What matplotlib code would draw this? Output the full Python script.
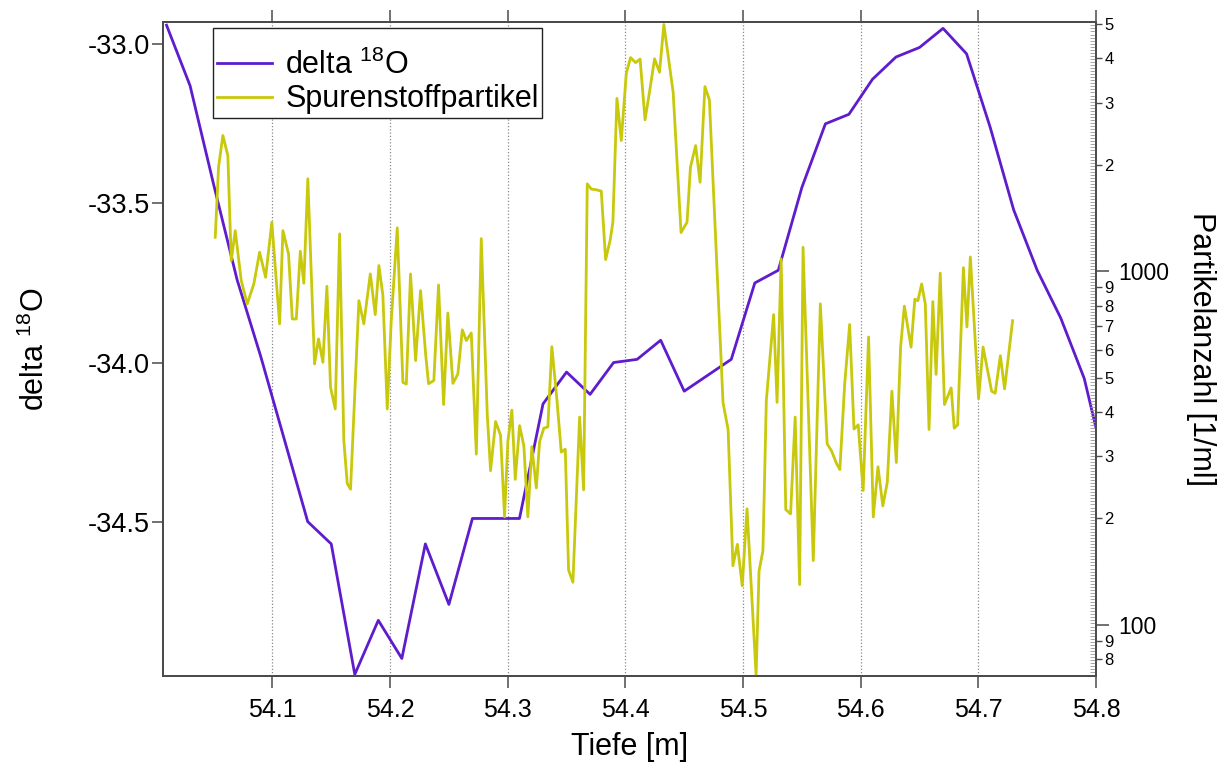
import numpy as np
import matplotlib
matplotlib.use("Agg")
import matplotlib.pyplot as plt
from matplotlib.ticker import FixedLocator, FuncFormatter, LogLocator, NullFormatter

plt.rcParams['font.family'] = ['Liberation Sans', 'DejaVu Sans']
plt.rcParams['mathtext.fontset'] = 'custom'
plt.rcParams['mathtext.rm'] = 'Liberation Sans'
plt.rcParams['mathtext.it'] = 'Liberation Sans:italic'
plt.rcParams['axes.unicode_minus'] = False

# ---------------- data ----------------
depth_o18 = [54.01, 54.03, 54.05, 54.07, 54.09, 54.11, 54.13, 54.15, 54.17, 54.19,
             54.21, 54.23, 54.25, 54.27, 54.29, 54.31, 54.33, 54.35, 54.37, 54.39,
             54.41, 54.43, 54.45, 54.47, 54.49, 54.51, 54.53, 54.55, 54.57, 54.59,
             54.61, 54.63, 54.65, 54.67, 54.69, 54.71, 54.73, 54.75, 54.77, 54.79,
             54.81]
delta_o18 = [-32.94, -33.13, -33.44, -33.74, -33.98, -34.24, -34.50, -34.57, -34.98, -34.81,
             -34.93, -34.57, -34.76, -34.49, -34.49, -34.49, -34.13, -34.03, -34.10, -34.00,
             -33.99, -33.93, -34.09, -34.04, -33.99, -33.75, -33.71, -33.45, -33.25, -33.22,
             -33.11, -33.04, -33.01, -32.95, -33.03, -33.26, -33.52, -33.71, -33.86, -34.05,
             -34.36]

depth_part = [54.0514, 54.0542, 54.0579, 54.0621, 54.0650, 54.0684, 54.0735, 54.0786, 54.0842, 54.0891,
              54.0942, 54.0995, 54.1061, 54.1089, 54.1137, 54.1169, 54.1203, 54.1237, 54.1267, 54.1301,
              54.1358, 54.1392, 54.1429, 54.1463, 54.1494, 54.1534, 54.1571, 54.1607, 54.1636, 54.1664,
              54.1735, 54.1777, 54.1832, 54.1874, 54.1905, 54.1939, 54.1976, 54.2010, 54.2061, 54.2109,
              54.2138, 54.2174, 54.2217, 54.2259, 54.2302, 54.2327, 54.2372, 54.2412, 54.2455, 54.2491,
              54.2534, 54.2576, 54.2614, 54.2648, 54.2690, 54.2733, 54.2775, 54.2826, 54.2854, 54.2897,
              54.2939, 54.2973, 54.3001, 54.3035, 54.3064, 54.3101, 54.3137, 54.3171, 54.3205, 54.3243,
              54.3271, 54.3307, 54.3341, 54.3375, 54.3418, 54.3455, 54.3489, 54.3517, 54.3554, 54.3611,
              54.3645, 54.3676, 54.3710, 54.3753, 54.3795, 54.3832, 54.3872, 54.3894, 54.3928, 54.3965,
              54.4008, 54.4044, 54.4087, 54.4125, 54.4167, 54.4207, 54.4248, 54.4290, 54.4327, 54.4406,
              54.4473, 54.4524, 54.4553, 54.4597, 54.4635, 54.4676, 54.4714, 54.4830, 54.4873, 54.4914,
              54.4952, 54.4993, 54.5034, 54.5111, 54.5136, 54.5169, 54.5198, 54.5260, 54.5289, 54.5324,
              54.5363, 54.5404, 54.5443, 54.5481, 54.5510, 54.5597, 54.5657, 54.5715, 54.5751, 54.5797,
              54.5823, 54.5864, 54.5906, 54.5943, 54.5979, 54.6021, 54.6067, 54.6107, 54.6147, 54.6188,
              54.6226, 54.6265, 54.6303, 54.6339, 54.6371, 54.6428, 54.6460, 54.6486, 54.6518, 54.6549,
              54.6581, 54.6613, 54.6641, 54.6676, 54.6712, 54.6769, 54.6795, 54.6824, 54.6873, 54.6903,
              54.6932, 54.7002, 54.7040, 54.7113, 54.7143, 54.7187, 54.7223, 54.7291]
particles = [1248, 1969, 2421, 2125, 1072, 1303, 941, 809, 921, 1132,
             962, 1376, 710, 1303, 1120, 733, 733, 1139, 925, 1826,
             547, 644, 553, 907, 470, 408, 1276, 332, 251, 242,
             826, 710, 983, 754, 1038, 854, 408, 725, 1327, 485,
             480, 983, 559, 882, 584, 481, 491, 915, 420, 762,
             482, 512, 683, 637, 669, 304, 1237, 394, 273, 376,
             344, 202, 330, 405, 258, 366, 321, 202, 319, 244,
             330, 360, 363, 612, 434, 308, 314, 143, 132, 387,
             241, 1767, 1709, 1700, 1686, 1079, 1230, 1380, 3082, 2343,
             3635, 4022, 3892, 3983, 2681, 3245, 3989, 3655, 4988, 3209,
             1287, 1376, 1969, 2268, 1786, 3330, 3054, 425, 357, 147,
             169, 129, 213, 72, 142, 162, 431, 754, 426, 1084,
             212, 206, 387, 130, 1169, 152, 809, 325, 311, 285,
             275, 480, 707, 358, 368, 240, 652, 202, 280, 217,
             253, 458, 288, 610, 797, 610, 834, 826, 921, 809,
             357, 821, 511, 988, 420, 468, 360, 368, 1024, 696,
             1098, 436, 611, 458, 452, 577, 465, 725]

x_ticks = [54.1, 54.2, 54.3, 54.4, 54.5, 54.6, 54.7, 54.8]
y_left_ticks = [-33.0, -33.5, -34.0, -34.5]
y_right_major = [100, 1000]

label_o18 = 'delta $^{18}$O'
label_part = 'Spurenstoffpartikel'

# ---------------- style ----------------
purple = '#5e1ccc'
yellow = '#c8c80c'
spine_col = '#4a4a4a'

W, H = 1232, 762
L, R, T, B = 163, 1096, 22, 676
fig = plt.figure(figsize=(W / 100, H / 100), dpi=100)
ax = fig.add_axes([L / W, 1 - B / H, (R - L) / W, (B - T) / H])

ax.plot(depth_o18, delta_o18, color=purple, lw=2.0, label=label_o18, zorder=3)
ax.set_xlim(54.007, 54.8)
ax.set_ylim(-34.985, -32.93)
ax.xaxis.set_major_locator(FixedLocator(x_ticks))
ax.xaxis.set_major_formatter(FuncFormatter(lambda v, p: f"{v:.1f}"))
ax.yaxis.set_major_locator(FixedLocator(y_left_ticks))
ax.yaxis.set_major_formatter(FuncFormatter(lambda v, p: f"{v:.1f}"))
ax.grid(axis='x', linestyle=(0, (1, 1.6)), color='#8a8a8a', lw=0.9, zorder=0)
ax.set_axisbelow(True)
ax.tick_params(axis='x', which='major', direction='out', length=8.5, width=1.1,
               pad=7, labelsize=18, top=True, color=spine_col)
ax.tick_params(axis='y', which='major', direction='out', length=8, width=1.1,
               pad=1.5, labelsize=19.5, color=spine_col)

# fine ruler-like ticks along the right axis
ax3 = ax.twinx()
ax3.set_yscale('log')
ax3.set_ylim(71.7, 5070)
ax3.yaxis.set_major_locator(FixedLocator(np.logspace(np.log10(72), np.log10(5060), 215)))
ax3.yaxis.set_major_formatter(NullFormatter())
ax3.yaxis.set_minor_locator(FixedLocator([]))
ax3.tick_params(axis='y', which='major', direction='in', length=4, width=0.6,
                color='#9a9a9a')
for s in ax3.spines.values():
    s.set_visible(False)

ax2 = ax.twinx()
ax2.plot(depth_part, particles, color=yellow, lw=2.0, label=label_part, zorder=2)
ax2.set_yscale('log')
ax2.set_ylim(71.7, 5070)
ax2.yaxis.set_major_locator(FixedLocator(y_right_major))
ax2.yaxis.set_major_formatter(FuncFormatter(lambda v, p: f"{int(round(v))}"))
ax2.yaxis.set_minor_locator(LogLocator(base=10, subs=np.arange(2, 10), numticks=20))
ax2.yaxis.set_minor_formatter(FuncFormatter(
    lambda v, p: f"{int(round(v / 10 ** np.floor(np.log10(v) + 1e-9)))}"))
ax2.tick_params(axis='y', which='major', direction='out', length=9, width=1.1,
                pad=7, labelsize=16.5, color=spine_col)
ax2.tick_params(axis='y', which='minor', direction='out', length=4.5, width=1.0,
                pad=1.5, labelsize=12, color=spine_col)

for a in (ax, ax2):
    for s in a.spines.values():
        s.set_color(spine_col)
        s.set_linewidth(1.3)

ax.set_xlabel('Tiefe [m]', fontsize=22, va='center')
ax.xaxis.set_label_coords(0.5, -0.109)
ax.set_ylabel(label_o18, fontsize=22, va='center')
ax.yaxis.set_label_coords(-0.137, 0.5)
ax2.set_ylabel('Partikelanzahl [1/ml]', fontsize=22, rotation=-90, va='center')
ax2.yaxis.set_label_coords(1.113, 0.5)

h1, l1 = ax.get_legend_handles_labels()
h2, l2 = ax2.get_legend_handles_labels()
leg = ax2.legend(h1 + h2, l1 + l2, loc='upper left',
                 bbox_to_anchor=((213 - L) / (R - L), (B - 28) / (B - T)),
                 borderaxespad=0, fontsize=22, frameon=True, fancybox=False,
                 edgecolor='#222222', framealpha=1, handlelength=1.8,
                 handletextpad=0.45, borderpad=0.12, labelspacing=0.12,
                 title=' ', title_fontsize=10)
leg.get_frame().set_linewidth(1.0)
leg.set_zorder(10)

fig.savefig('out.png', dpi=100)
